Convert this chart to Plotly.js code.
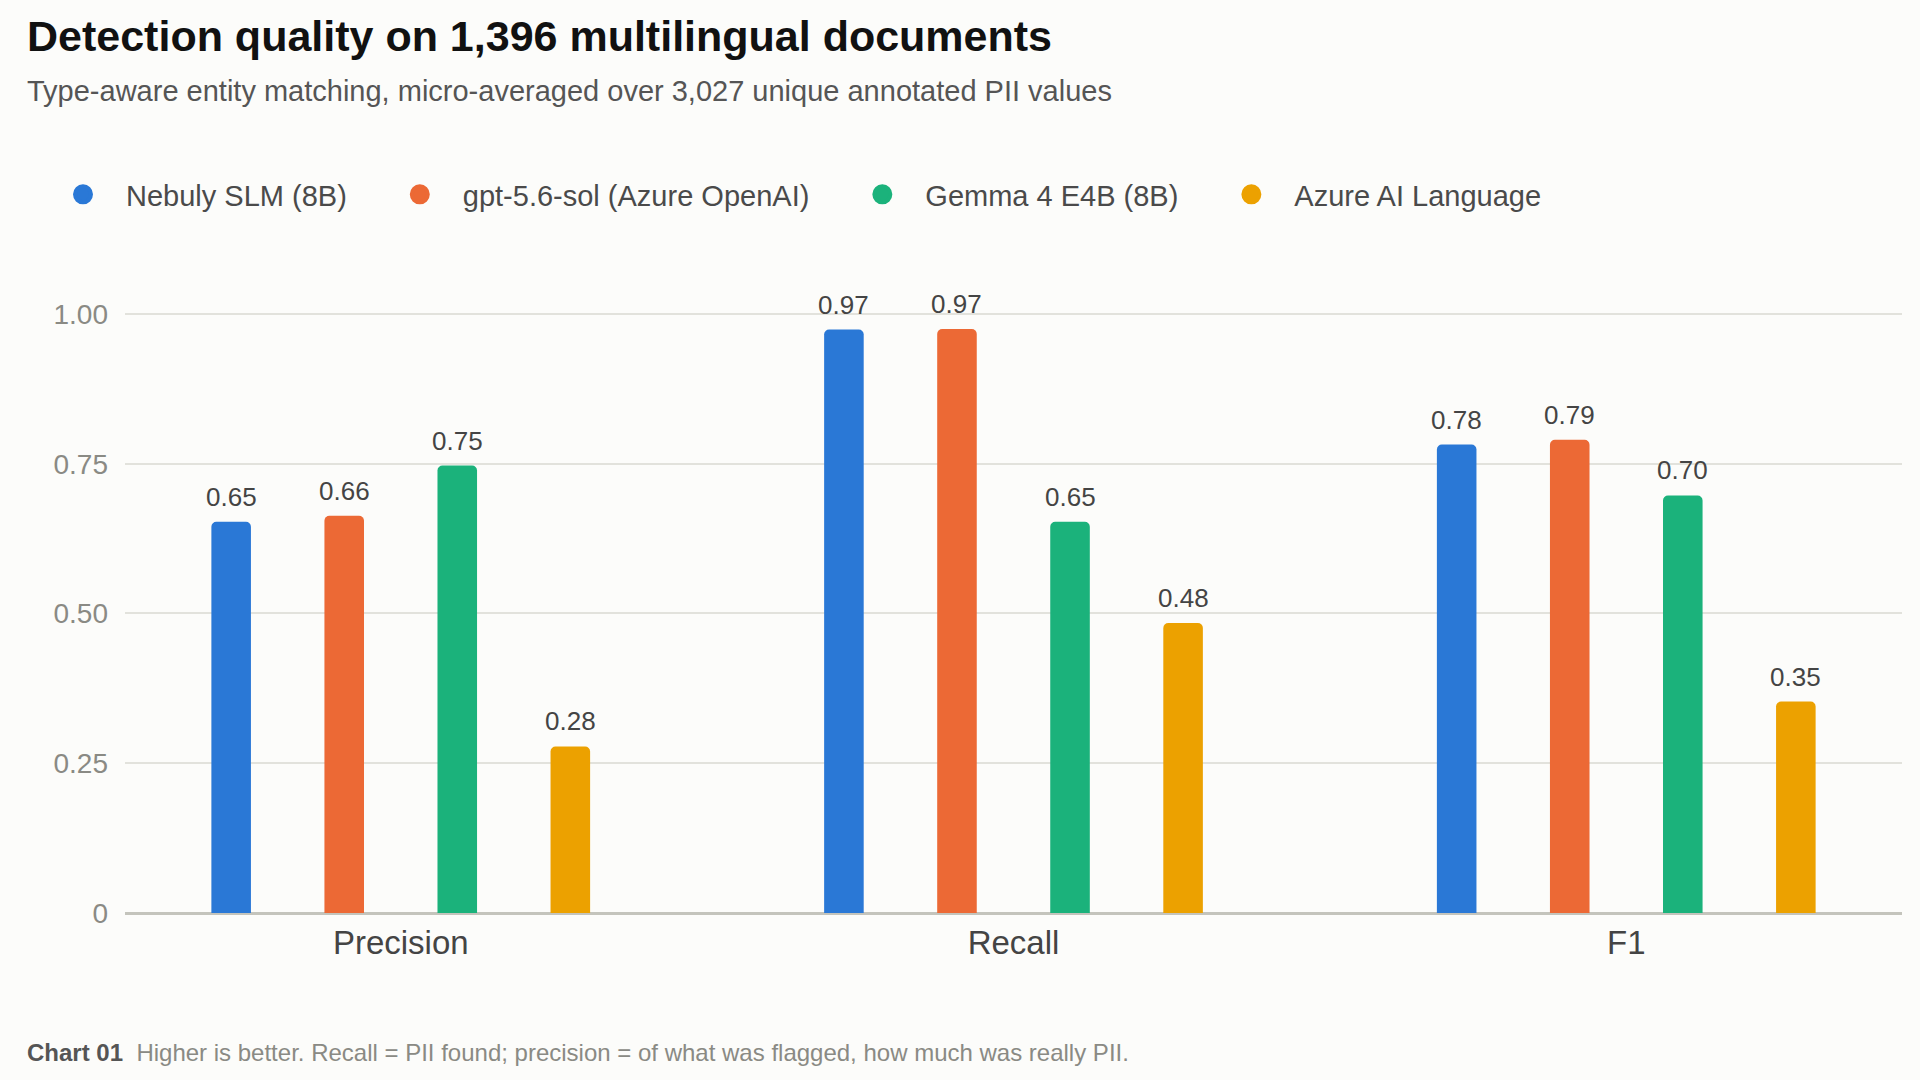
<!DOCTYPE html>
<html>
<head>
<meta charset="utf-8">
<script src="https://cdn.plot.ly/plotly-3.0.1.min.js"></script>
<style>
  html, body { margin: 0; padding: 0; background: #fcfcfa; }
  #chart { width: 1920px; height: 1080px; }
</style>
</head>
<body>
<div id="chart"></div>
<script>
// metrics on the x axis
const metrics = ["Precision", "Recall", "F1"];

// one array per system, in metric order
const models = ["Nebuly SLM (8B)", "gpt-5.6-sol (Azure OpenAI)", "Gemma 4 E4B (8B)", "Azure AI Language"];
const nebulyScores = [0.653, 0.974, 0.782];
const gptScores    = [0.663, 0.975, 0.790];
const gemmaScores  = [0.747, 0.653, 0.697];
const azureScores  = [0.278, 0.484, 0.353];

const yTickVals = [0, 0.25, 0.5, 0.75, 1.0];
const yTickText = ["0", "0.25", "0.50", "0.75", "1.00"];

const colors = ["#2a78d6", "#ec6935", "#1bb27b", "#eca100"];
const allScores = [nebulyScores, gptScores, gemmaScores, azureScores];

const FONT = "'Liberation Sans', Arial, sans-serif";
const LEGEND_SIZE = 29;
const bargap = 0.262;
const slot = (1 - bargap) / models.length;

// measure legend labels so each entry can sit in its own legend box
var ctx = document.createElement("canvas").getContext("2d");
ctx.font = LEGEND_SIZE + "px 'Liberation Sans'";
var legendX = [];
var markerCenter = 82;
models.forEach(function (m) {
  legendX.push(markerCenter - 42);
  markerCenter += 43 + ctx.measureText(m).width + 73;
});

var data = [];
var annotations = [];
var legends = {};

allScores.forEach(function (scores, j) {
  var legendId = j === 0 ? "legend" : "legend" + (j + 1);
  // the bars themselves
  data.push({
    type: "bar",
    name: models[j],
    x: metrics,
    y: scores,
    marker: { color: colors[j] },
    legendgroup: models[j],
    showlegend: false,
    hoverinfo: "x+y+name"
  });
  // legend entry with a round marker
  data.push({
    type: "scatter",
    mode: "markers",
    name: models[j],
    x: [null],
    y: [null],
    legend: legendId,
    legendgroup: models[j],
    marker: { color: colors[j], size: 16, symbol: "circle", line: { color: colors[j], width: 4 } },
    hoverinfo: "skip"
  });
  legends[legendId] = {
    orientation: "h",
    xref: "container", yref: "container",
    x: legendX[j] / 1920, y: 1 - 194.5 / 1080,
    xanchor: "left", yanchor: "middle",
    itemwidth: 76,
    font: { family: FONT, size: LEGEND_SIZE, color: "#4a4a4a" },
    bgcolor: "rgba(0,0,0,0)",
    itemclick: false, itemdoubleclick: false
  };
  // value labels above each bar
  scores.forEach(function (v, i) {
    annotations.push({
      xref: "x", yref: "y",
      x: i + (j - (models.length - 1) / 2) * slot,
      y: v,
      yanchor: "bottom",
      yshift: 8,
      showarrow: false,
      text: v.toFixed(2),
      font: { family: FONT, size: 26, color: "#444444" }
    });
  });
});

// title, subtitle and footer
var leftX = (24.5 - 125) / 1777;
annotations.push({
  xref: "paper", yref: "paper",
  x: leftX, y: (913.5 - 35.5) / 630,
  xanchor: "left", yanchor: "middle",
  showarrow: false,
  text: "<b>Detection quality on 1,396 multilingual documents</b>",
  font: { family: FONT, size: 43, color: "#111111" }
});
annotations.push({
  xref: "paper", yref: "paper",
  x: leftX, y: (913.5 - 90.5) / 630,
  xanchor: "left", yanchor: "middle",
  showarrow: false,
  text: "Type-aware entity matching, micro-averaged over 3,027 unique annotated PII values",
  font: { family: FONT, size: 29, color: "#555555" }
});
annotations.push({
  xref: "paper", yref: "paper",
  x: leftX, y: (913.5 - 1053) / 630,
  xanchor: "left", yanchor: "middle",
  showarrow: false,
  text: "<b><span style='color:#555555'>Chart 01</span></b>  Higher is better. Recall = PII found; precision = of what was flagged, how much was really PII.",
  font: { family: FONT, size: 24, color: "#8a8a84" }
});

var layout = {
  width: 1920,
  height: 1080,
  paper_bgcolor: "#fcfcfa",
  plot_bgcolor: "#fcfcfa",
  margin: { l: 125, r: 18, t: 283.5, b: 166.5, pad: 0 },
  barmode: "group",
  bargap: bargap,
  bargroupgap: 0.65,
  barcornerradius: 5,
  font: { family: FONT, color: "#444444" },
  showlegend: true,
  xaxis: {
    type: "category",
    range: [-0.45, 2.45],
    showgrid: false,
    showline: false,
    zeroline: false,
    ticks: "",
    tickfont: { family: FONT, size: 33, color: "#444444" },
    ticklabelstandoff: 7
  },
  yaxis: {
    range: [0, 1.05],
    tickvals: yTickVals,
    ticktext: yTickText,
    showgrid: true,
    gridcolor: "#e2e2dc",
    gridwidth: 2,
    zeroline: true,
    zerolinecolor: "#c4c4bc",
    zerolinewidth: 3,
    showline: false,
    ticks: "",
    tickfont: { family: FONT, size: 28, color: "#8a8a84" },
    ticklabelstandoff: 16,
    fixedrange: true
  },
  annotations: annotations
};
Object.assign(layout, legends);

Plotly.newPlot("chart", data, layout, { displayModeBar: false });
</script>
</body>
</html>
